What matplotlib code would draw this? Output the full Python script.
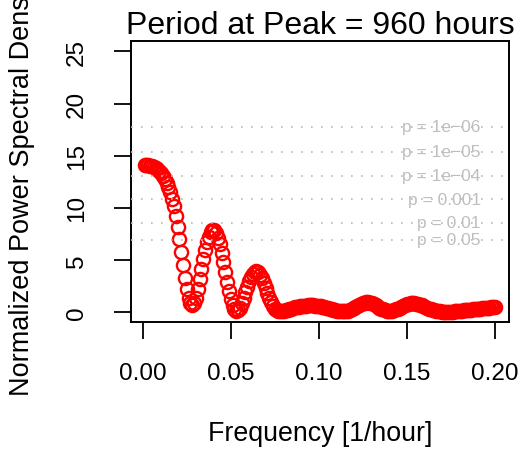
import matplotlib
matplotlib.use("Agg")
import matplotlib.pyplot as plt
import numpy as np

plt.rcParams['font.family'] = ['Liberation Sans', 'DejaVu Sans']

# periodogram grid: k / 960 hours, k = 1..192
n_freq = 192
period_hours = 960
freq = np.arange(1, n_freq + 1) / period_hours

# normalized power, one value per frequency
power = [
    14.10, 14.10, 14.08, 14.05, 14.00, 13.93, 13.83, 13.70, 13.53, 13.32,
    13.08, 12.78, 12.42, 12.00, 11.50, 10.90, 10.15, 9.25, 8.20, 7.00,
    5.75, 4.50, 3.30, 2.25, 1.40, 0.85, 0.65, 0.85, 1.40, 2.20,
    3.15, 4.15, 5.10, 5.95, 6.70, 7.25, 7.65, 7.85, 7.85, 7.60,
    7.15, 6.50, 5.70, 4.80, 3.85, 2.90, 2.05, 1.30, 0.70, 0.30,
    0.15, 0.20, 0.45, 0.85, 1.35, 1.90, 2.45, 2.95, 3.40, 3.70,
    3.90, 3.95, 3.85, 3.60, 3.25, 2.80, 2.30, 1.80, 1.35, 0.95,
    0.60, 0.35, 0.20, 0.12, 0.10, 0.12, 0.16, 0.21, 0.26, 0.31,
    0.36, 0.41, 0.46, 0.50, 0.54, 0.57, 0.60, 0.62, 0.64, 0.65,
    0.66, 0.66, 0.65, 0.64, 0.62, 0.59, 0.56, 0.52, 0.48, 0.43,
    0.38, 0.33, 0.28, 0.23, 0.19, 0.15, 0.12, 0.10, 0.09, 0.09,
    0.11, 0.15, 0.21, 0.29, 0.38, 0.48, 0.58, 0.68, 0.77, 0.85,
    0.91, 0.94, 0.94, 0.91, 0.85, 0.77, 0.67, 0.56, 0.45, 0.35,
    0.27, 0.20, 0.15, 0.13, 0.13, 0.16, 0.21, 0.28, 0.36, 0.45,
    0.54, 0.63, 0.71, 0.77, 0.82, 0.85, 0.86, 0.85, 0.82, 0.78,
    0.72, 0.65, 0.58, 0.50, 0.43, 0.36, 0.30, 0.24, 0.19, 0.15,
    0.12, 0.09, 0.07, 0.06, 0.05, 0.05, 0.05, 0.06, 0.07, 0.08,
    0.10, 0.11, 0.13, 0.15, 0.17, 0.19, 0.21, 0.23, 0.25, 0.27,
    0.29, 0.31, 0.33, 0.35, 0.37, 0.39, 0.41, 0.43, 0.45, 0.47,
    0.48, 0.50,
]

# significance levels (dotted lines)
p_labels = ["p = 0.05", "p = 0.01", "p = 0.001",
            "p = 1e\u221204", "p = 1e\u221205", "p = 1e\u221206"]
p_levels = [6.97, 8.6, 10.85, 13.1, 15.4, 17.8]

x_ticks = [0.00, 0.05, 0.10, 0.15, 0.20]
x_ticklabels = ["0.00", "0.05", "0.10", "0.15", "0.20"]
y_ticks = [0, 5, 10, 15, 20, 25]

fig = plt.figure(figsize=(5.23, 4.52), dpi=100)
ax = fig.add_axes([0.2499, 0.2843, 0.7233, 0.6228])

ax.plot(freq, power, linestyle='none', marker='o', mfc='none', mec='#ff0000',
        ms=9.5, mew=1.7, zorder=2)

for lev, lab in zip(p_levels, p_labels):
    ax.axhline(lev, color='#b8b8b8', lw=1.2, linestyle=(0, (1, 5)), zorder=3)
    ax.text(0.192, lev, lab, color='#bebebe', fontsize=12.5,
            ha='right', va='center', zorder=4)

ax.set_xlim(-0.0068, 0.208)
ax.set_ylim(-0.98, 26.0)

ax.set_xticks(x_ticks)
ax.set_xticklabels(x_ticklabels)
ax.set_yticks(y_ticks)
ax.tick_params(axis='both', direction='out', length=12, width=1.3,
               labelsize=17.5, color='black')
ax.tick_params(axis='x', pad=16.5)
ax.tick_params(axis='y', pad=19)
for lab in ax.get_yticklabels():
    lab.set_rotation(90)
    lab.set_va('center')

for sp in ax.spines.values():
    sp.set_linewidth(1.4)

ax.set_title("Period at Peak = 960 hours", fontsize=23, pad=6)
ax.set_xlabel("Frequency [1/hour]", fontsize=19.3)
ax.xaxis.set_label_coords(0.5, -0.345)
ax.set_ylabel("Normalized Power Spectral Density", fontsize=19.5)
ax.yaxis.set_label_coords(-0.253, 0.5)

fig.savefig('out.png', dpi=100, facecolor='white')
